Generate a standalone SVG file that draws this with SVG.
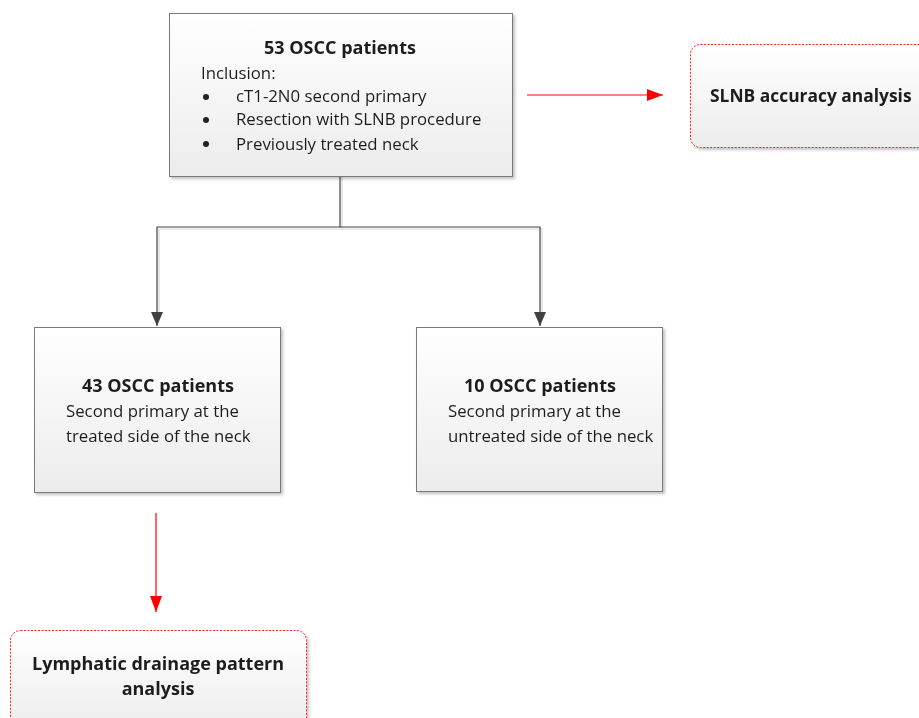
<svg xmlns="http://www.w3.org/2000/svg" width="919" height="718" viewBox="0 0 919 718">
<style>
.box{fill:url(#g);stroke:#7a7a7a;stroke-width:1}
.rbox{fill:url(#g);stroke:#ff2020;stroke-width:1;stroke-dasharray:2 1.5}
.t{font-family:"Open Sans","Noto Sans","Liberation Sans",sans-serif;font-size:16.8px;fill:#1e1e1e}
.b{font-weight:bold;font-size:18px}
.c{text-anchor:middle}
.ln{fill:none;stroke:#444;stroke-width:1.2}
.sh{fill:none;stroke:#d8d8d8;stroke-width:1.2}
.rl{fill:none;stroke:#ff0000;stroke-width:1.2}
</style>
<defs>
<linearGradient id="g" x1="0" y1="0" x2="0" y2="1">
<stop offset="0" stop-color="#ffffff"/>
<stop offset="1" stop-color="#ececec"/>
</linearGradient>
<filter id="ds" x="-10%" y="-10%" width="130%" height="130%">
<feGaussianBlur in="SourceAlpha" stdDeviation="1.5"/>
<feOffset dx="2" dy="2"/>
<feComponentTransfer><feFuncA type="linear" slope="0.25"/></feComponentTransfer>
<feMerge><feMergeNode/><feMergeNode in="SourceGraphic"/></feMerge>
</filter>
<marker id="ag" markerWidth="14" markerHeight="12" refX="14" refY="6" viewBox="0 0 14 12" orient="auto" markerUnits="userSpaceOnUse">
<path d="M0,0 L14,6 L0,12 z" fill="#404040"/>
</marker>
<marker id="ar" markerWidth="16" markerHeight="12" refX="16" refY="6" viewBox="0 0 16 12" orient="auto" markerUnits="userSpaceOnUse">
<path d="M0,0 L16,6 L0,12 z" fill="#ff0000"/>
</marker>
</defs>

<g id="connectors">
<path class="sh" d="M342,177 V229 H159 V312"/>
<path class="sh" d="M342,229 H542 V312"/>
<path class="ln" d="M340,177 V227 H157 V326" marker-end="url(#ag)"/>
<path class="ln" d="M340,227 H540 V326" marker-end="url(#ag)"/>
<path class="rl" d="M527,95 H663" marker-end="url(#ar)"/>
<path class="rl" d="M156,513 V612" marker-end="url(#ar)"/>
</g>

<g id="n53" filter="url(#ds)">
<rect class="box" x="169.5" y="13.5" width="343" height="163"/>
<text class="t b c" x="340" y="54">53 OSCC patients</text>
<text class="t" x="201" y="79">Inclusion:</text>
<circle cx="206" cy="97" r="3" fill="#222"/>
<text class="t" x="236" y="102">cT1-2N0 second primary</text>
<circle cx="206" cy="120" r="3" fill="#222"/>
<text class="t" x="236" y="125">Resection with SLNB procedure</text>
<circle cx="206" cy="144" r="3" fill="#222"/>
<text class="t" x="236" y="150">Previously treated neck</text>
</g>

<g id="slnb" filter="url(#ds)">
<rect class="rbox" x="690.5" y="44.5" width="240" height="103" rx="10"/>
<text class="t b" x="710" y="102" style="font-size:17.4px">SLNB accuracy analysis</text>
</g>

<g id="n43" filter="url(#ds)">
<rect class="box" x="34.5" y="327.5" width="246" height="165"/>
<text class="t b c" x="158" y="392">43 OSCC patients</text>
<text class="t" x="66" y="417">Second primary at the</text>
<text class="t" x="66" y="442">treated side of the neck</text>
</g>

<g id="n10" filter="url(#ds)">
<rect class="box" x="416.5" y="327.5" width="246" height="164"/>
<text class="t b c" x="540" y="392">10 OSCC patients</text>
<text class="t" x="448" y="417">Second primary at the</text>
<text class="t" x="448" y="442">untreated side of the neck</text>
</g>

<g id="lymph" filter="url(#ds)">
<rect class="rbox" x="10.5" y="630.5" width="296" height="100" rx="10"/>
<text class="t b c" x="158" y="670">Lymphatic drainage pattern</text>
<text class="t b c" x="158" y="695">analysis</text>
</g>
</svg>
